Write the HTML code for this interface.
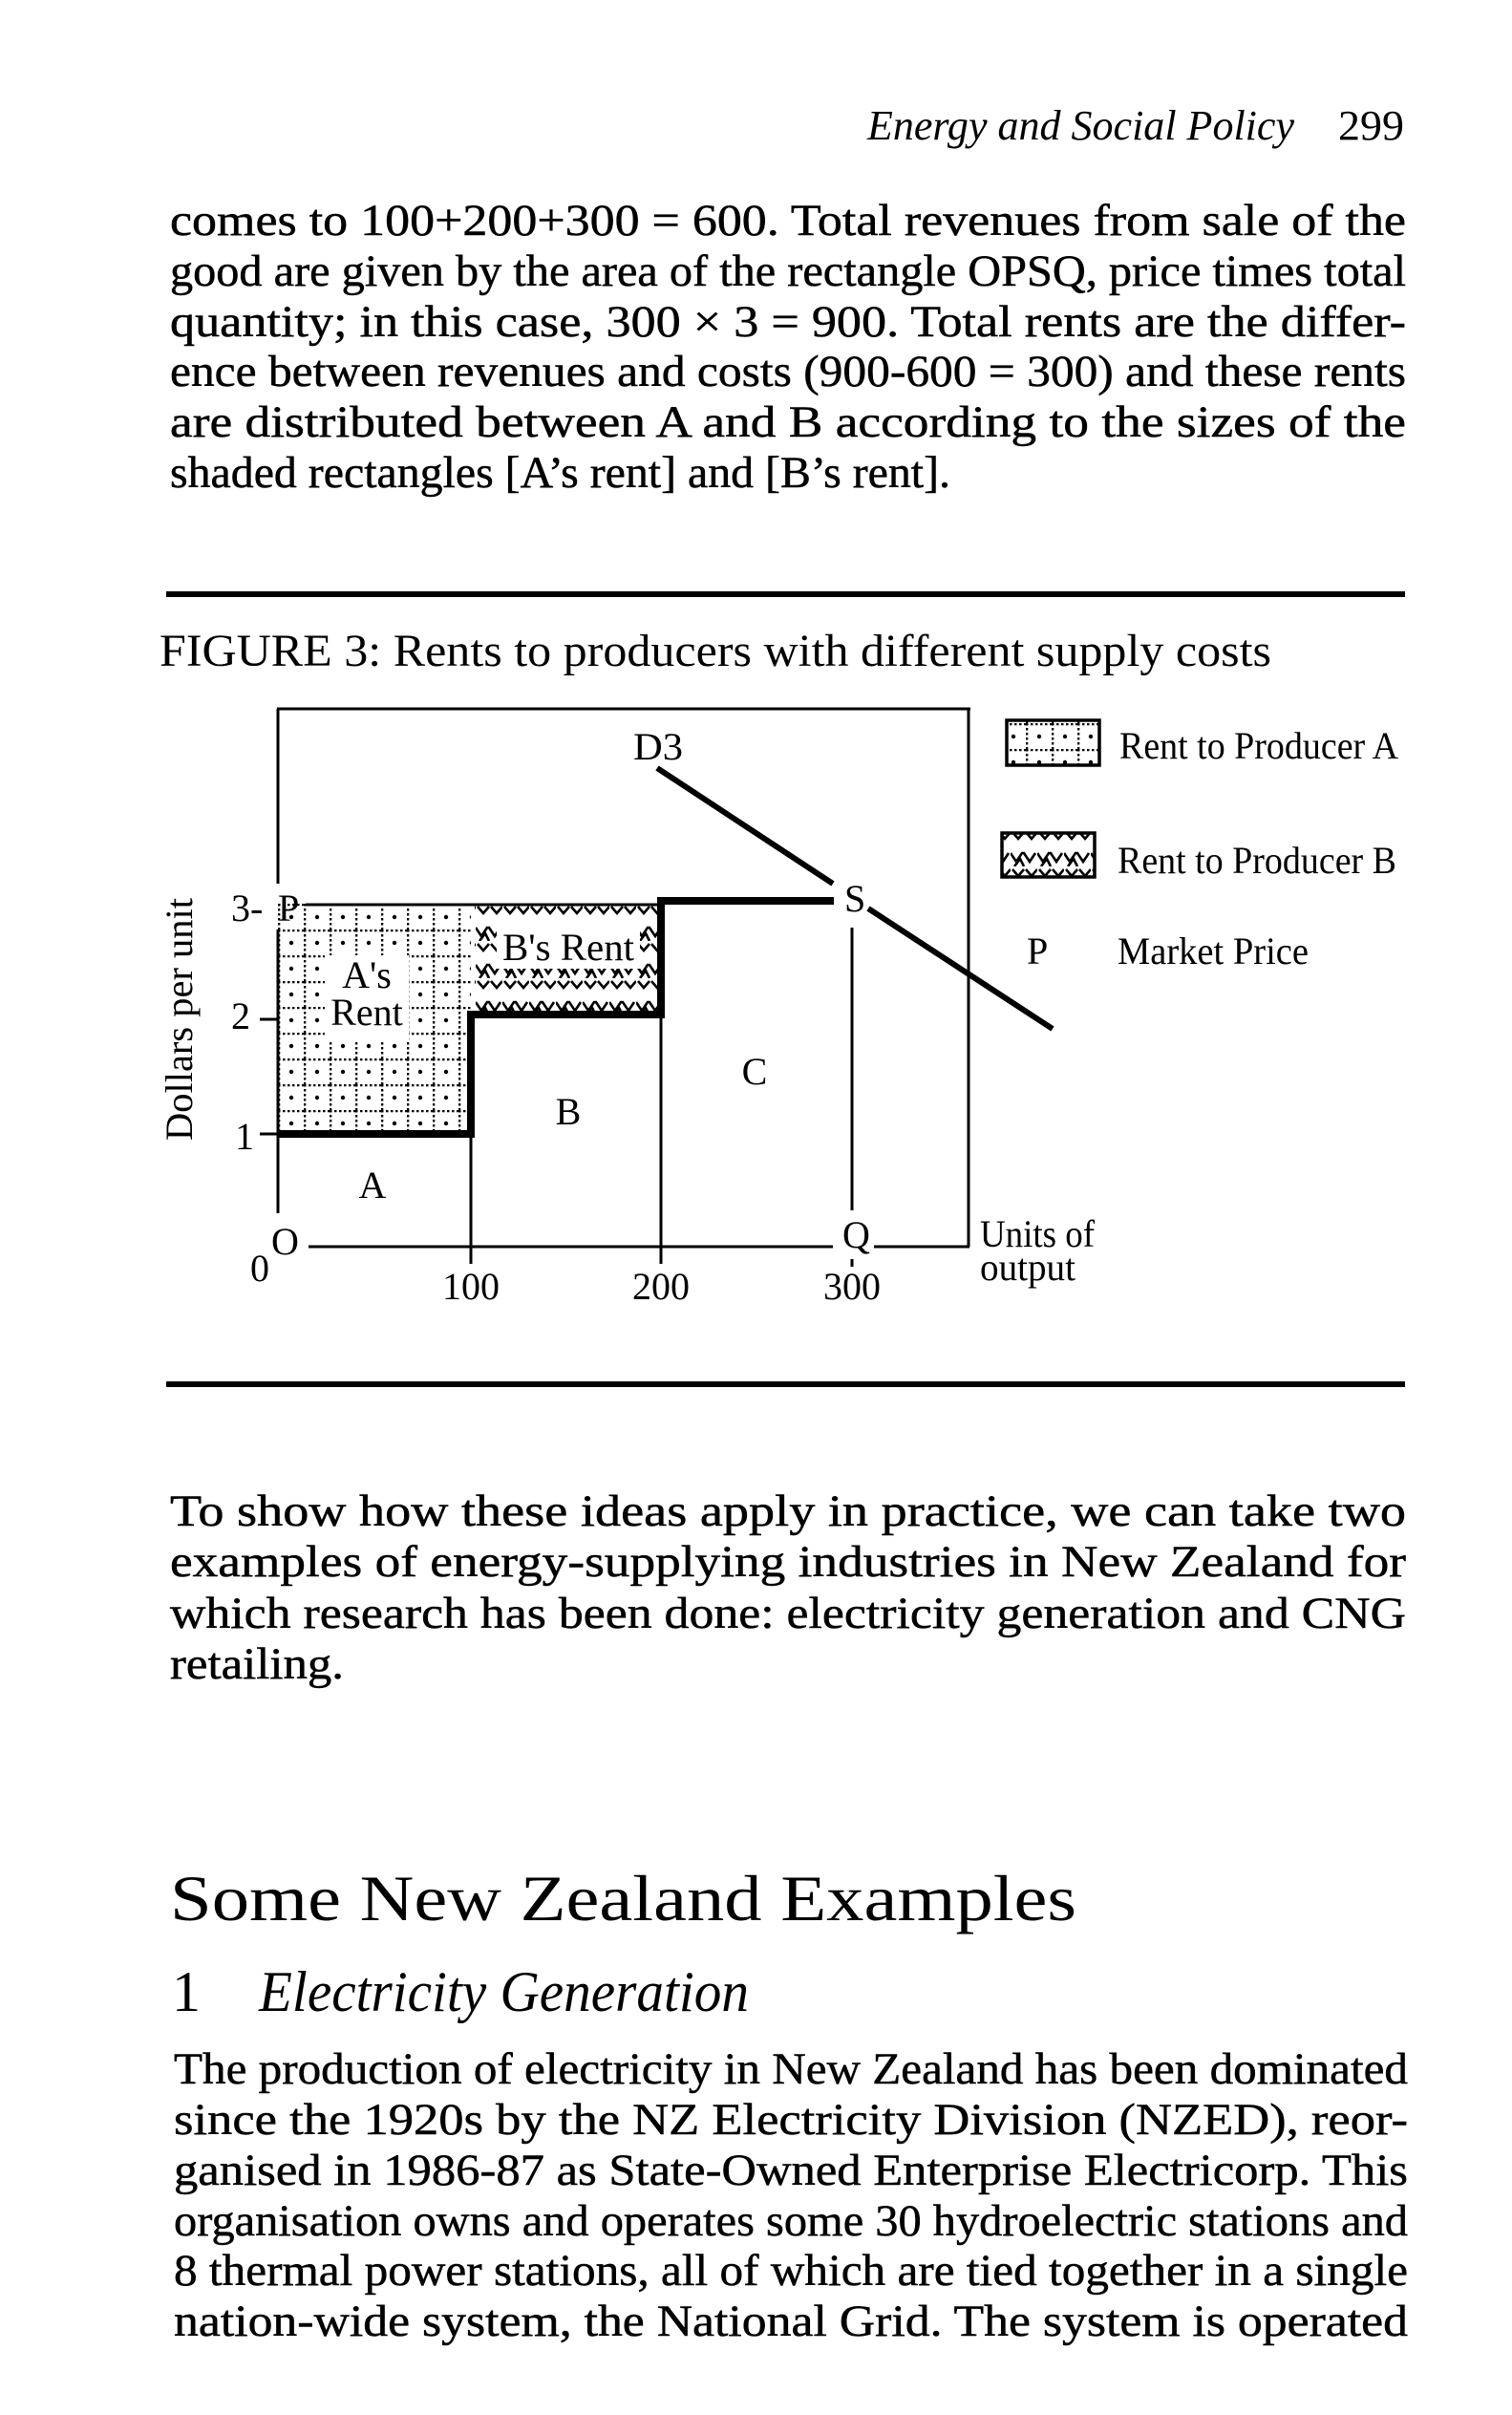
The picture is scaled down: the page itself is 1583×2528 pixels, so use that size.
<!DOCTYPE html>
<html><head><meta charset="utf-8"><style>
html,body{margin:0;padding:0;background:#fff;}
svg{display:block;}
text{font-family:"Liberation Serif",serif;fill:#000;}
</style></head><body>
<svg width="1583" height="2528" viewBox="0 0 1583 2528" xmlns="http://www.w3.org/2000/svg">
<defs>
<pattern id="dots" x="291" y="946" width="27" height="27" patternUnits="userSpaceOnUse">
<line x1="0" y1="1" x2="27" y2="1" stroke="#000" stroke-width="2.6" stroke-dasharray="2.5 2.5"/>
<line x1="1" y1="0" x2="1" y2="27" stroke="#000" stroke-width="2.6" stroke-dasharray="2.5 2.5"/>
<circle cx="14" cy="14" r="2.2" fill="#000"/>
</pattern>
<pattern id="wave" x="498" y="946" width="28" height="39" patternUnits="userSpaceOnUse">
<path d="M2 3 L8 10 L14 3 M16 3 L22 10 L28 3" fill="none" stroke="#000" stroke-width="2.6"/>
<path d="M0 25 L6 34 L12 25 L14 25 L20 34 L26 25" fill="none" stroke="#000" stroke-width="2.6"/>
<path d="M4 39 L10 31 L14 39" fill="none" stroke="#000" stroke-width="2.6"/>
</pattern>
</defs>

<!-- header -->
<text x="908" y="146" font-size="44" font-style="italic" textLength="447" lengthAdjust="spacingAndGlyphs">Energy and Social Policy</text>
<text x="1401" y="146" font-size="44" textLength="69" lengthAdjust="spacingAndGlyphs">299</text>

<!-- top paragraph -->
<g font-size="47" stroke="#000" stroke-width="0.5">
<text x="178" y="246" textLength="1294" lengthAdjust="spacingAndGlyphs">comes to 100+200+300 = 600. Total revenues from sale of the</text>
<text x="178" y="299" textLength="1294" lengthAdjust="spacingAndGlyphs">good are given by the area of the rectangle OPSQ, price times total</text>
<text x="178" y="352" textLength="1294" lengthAdjust="spacingAndGlyphs">quantity; in this case, 300 × 3 = 900. Total rents are the differ-</text>
<text x="178" y="404" textLength="1294" lengthAdjust="spacingAndGlyphs">ence between revenues and costs (900-600 = 300) and these rents</text>
<text x="178" y="457" textLength="1294" lengthAdjust="spacingAndGlyphs">are distributed between A and B according to the sizes of the</text>
<text x="178" y="510" textLength="817" lengthAdjust="spacingAndGlyphs">shaded rectangles [A’s rent] and [B’s rent].</text>
</g>

<!-- rules -->
<rect x="174" y="619" width="1297" height="6" fill="#000"/>
<rect x="174" y="1446" width="1297" height="6" fill="#000"/>

<text x="167" y="697" font-size="48" textLength="1164" lengthAdjust="spacingAndGlyphs">FIGURE 3: Rents to producers with different supply costs</text>

<!-- diagram -->
<rect x="291" y="946" width="202" height="238" fill="url(#dots)"/>
<rect x="340" y="1000" width="88" height="90" fill="#fff"/>
<rect x="497" y="946" width="195" height="116" fill="url(#wave)"/>
<rect x="520" y="968" width="150" height="46" fill="#fff"/>

<g stroke="#000" fill="none">
<line x1="290" y1="742" x2="1016" y2="742" stroke-width="3"/>
<line x1="1014" y1="742" x2="1014" y2="1305" stroke-width="3"/>
<line x1="291" y1="742" x2="291" y2="925" stroke-width="3"/>
<line x1="291" y1="973" x2="291" y2="1270" stroke-width="3"/>
<line x1="323" y1="1305" x2="872" y2="1305" stroke-width="3"/>
<line x1="915" y1="1305" x2="1015" y2="1305" stroke-width="3"/>
<line x1="320" y1="947" x2="692" y2="947" stroke-width="3"/>
<line x1="272" y1="1067" x2="292" y2="1067" stroke-width="3"/>
<line x1="272" y1="1187" x2="292" y2="1187" stroke-width="3"/>
<line x1="493" y1="1187" x2="493" y2="1323" stroke-width="3"/>
<line x1="692" y1="1062" x2="692" y2="1323" stroke-width="3"/>
<line x1="892" y1="971" x2="892" y2="1267" stroke-width="3"/>
<line x1="892" y1="1318" x2="892" y2="1326" stroke-width="3"/>
<polyline points="291,1187 493,1187 493,1062 692,1062 692,943 873,943" stroke-width="8"/>
<line x1="688" y1="804" x2="872" y2="925" stroke-width="6"/>
<line x1="909" y1="951" x2="1102" y2="1077" stroke-width="6"/>
</g>

<g font-size="40">
<text x="663" y="795" textLength="52" lengthAdjust="spacingAndGlyphs">D3</text>
<text x="884" y="954">S</text>
<text x="882" y="1306">Q</text>
<text x="242" y="964">3-</text>
<text x="291" y="964">P</text>
<text x="242" y="1077">2</text>
<text x="246" y="1203">1</text>
<text x="284" y="1313">O</text>
<text x="262" y="1341">0</text>
<text x="493" y="1360" text-anchor="middle">100</text>
<text x="692" y="1360" text-anchor="middle">200</text>
<text x="892" y="1360" text-anchor="middle">300</text>
<text x="384" y="1034" text-anchor="middle">A's</text>
<text x="384" y="1073" text-anchor="middle">Rent</text>
<text x="595" y="1005" text-anchor="middle" textLength="138" lengthAdjust="spacingAndGlyphs">B's Rent</text>
<text x="595" y="1177" text-anchor="middle">B</text>
<text x="790" y="1135" text-anchor="middle">C</text>
<text x="390" y="1254" text-anchor="middle">A</text>
<text x="1026" y="1305" textLength="120" lengthAdjust="spacingAndGlyphs">Units of</text>
<text x="1026" y="1340" textLength="100" lengthAdjust="spacingAndGlyphs">output</text>
<text transform="translate(201,1067) rotate(-90)" text-anchor="middle" textLength="254" lengthAdjust="spacingAndGlyphs">Dollars per unit</text>
</g>

<!-- legend -->
<rect x="1054" y="754" width="97" height="47" fill="url(#dots)" stroke="#000" stroke-width="3.5"/>
<rect x="1049" y="872" width="97" height="46" fill="url(#wave)" stroke="#000" stroke-width="3.5"/>
<g font-size="40">
<text x="1172" y="794" textLength="292" lengthAdjust="spacingAndGlyphs">Rent to Producer A</text>
<text x="1170" y="914" textLength="292" lengthAdjust="spacingAndGlyphs">Rent to Producer B</text>
<text x="1075" y="1009">P</text>
<text x="1170" y="1009" textLength="200" lengthAdjust="spacingAndGlyphs">Market Price</text>
</g>

<!-- lower paragraph -->
<g font-size="47" stroke="#000" stroke-width="0.5">
<text x="178" y="1597" textLength="1294" lengthAdjust="spacingAndGlyphs">To show how these ideas apply in practice, we can take two</text>
<text x="178" y="1650" textLength="1294" lengthAdjust="spacingAndGlyphs">examples of energy-supplying industries in New Zealand for</text>
<text x="178" y="1704" textLength="1294" lengthAdjust="spacingAndGlyphs">which research has been done: electricity generation and CNG</text>
<text x="178" y="1757" textLength="182" lengthAdjust="spacingAndGlyphs">retailing.</text>
</g>

<text x="178" y="2010" font-size="68" textLength="949" lengthAdjust="spacingAndGlyphs">Some New Zealand Examples</text>
<text x="180" y="2105" font-size="60">1</text>
<text x="271" y="2105" font-size="60" font-style="italic" textLength="513" lengthAdjust="spacingAndGlyphs">Electricity Generation</text>

<g font-size="47" stroke="#000" stroke-width="0.5">
<text x="182" y="2181" textLength="1292" lengthAdjust="spacingAndGlyphs">The production of electricity in New Zealand has been dominated</text>
<text x="182" y="2234" textLength="1292" lengthAdjust="spacingAndGlyphs">since the 1920s by the NZ Electricity Division (NZED), reor-</text>
<text x="182" y="2287" textLength="1292" lengthAdjust="spacingAndGlyphs">ganised in 1986-87 as State-Owned Enterprise Electricorp. This</text>
<text x="182" y="2340" textLength="1292" lengthAdjust="spacingAndGlyphs">organisation owns and operates some 30 hydroelectric stations and</text>
<text x="182" y="2392" textLength="1292" lengthAdjust="spacingAndGlyphs">8 thermal power stations, all of which are tied together in a single</text>
<text x="182" y="2445" textLength="1292" lengthAdjust="spacingAndGlyphs">nation-wide system, the National Grid. The system is operated</text>
</g>
</svg>
</body></html>
